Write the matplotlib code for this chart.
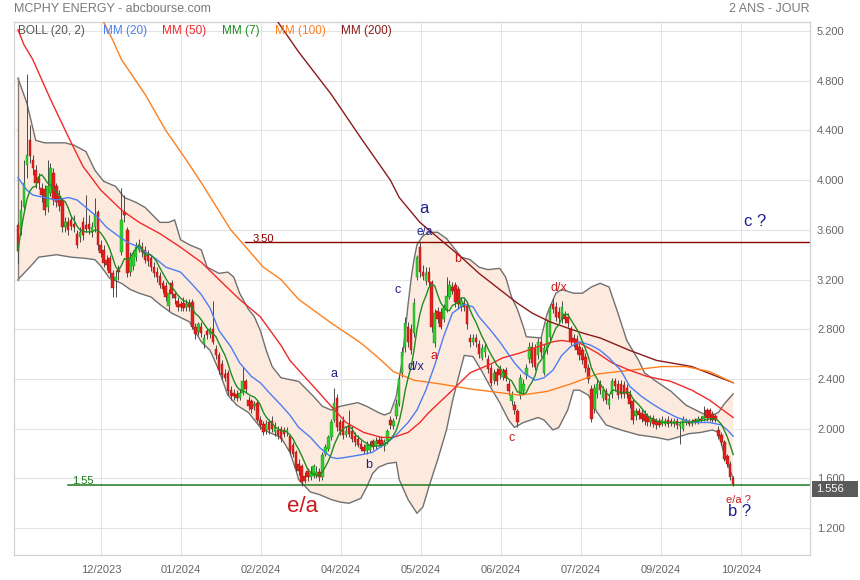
import matplotlib
matplotlib.use("Agg")
import matplotlib.pyplot as plt
import numpy as np
import pandas as pd
from matplotlib.patches import Rectangle

plt.rcParams['font.family'] = ['Liberation Sans', 'DejaVu Sans']

# ---------------- data (daily candles) ----------------
opens = [3.64, 3.60, 3.78, 4.12, 4.32, 4.16, 4.08, 4.02, 3.94, 3.93,
         3.78, 3.90, 4.06, 3.95, 3.87, 3.84, 3.62, 3.66, 3.68, 3.65,
         3.57, 3.54, 3.66, 3.64, 3.65, 3.58, 3.62, 3.74, 3.48, 3.44,
         3.36, 3.37, 3.25, 3.20, 3.28, 3.42, 3.74, 3.60, 3.26, 3.31,
         3.38, 3.44, 3.46, 3.44, 3.40, 3.37, 3.30, 3.26, 3.23, 3.17,
         3.15, 2.99, 3.17, 3.08, 3.03, 3.00, 3.01, 2.98, 3.01, 3.02,
         2.82, 2.78, 2.82, 2.68, 2.79, 2.76, 2.80, 2.64, 2.59, 2.52,
         2.44, 2.45, 2.31, 2.29, 2.28, 2.25, 2.29, 2.38, 2.23, 2.22,
         2.18, 2.21, 2.07, 2.04, 1.99, 2.05, 2.06, 1.97, 1.99, 2.00,
         1.99, 1.97, 1.94, 1.87, 1.81, 1.72, 1.70, 1.62, 1.66, 1.61,
         1.62, 1.62, 1.65, 1.61, 1.80, 1.84, 1.93, 2.07, 2.25, 2.05,
         2.06, 1.95, 2.03, 1.98, 1.94, 1.92, 1.88, 1.85, 1.82, 1.83,
         1.90, 1.86, 1.91, 1.91, 1.86, 1.90, 2.07, 2.02, 2.10, 2.20,
         2.45, 2.66, 2.82, 2.80, 2.77, 3.22, 3.46, 3.26, 3.19, 3.26,
         3.18, 2.69, 2.95, 2.94, 2.88, 2.96, 3.06, 3.14, 3.16, 3.12,
         2.98, 3.01, 2.99, 2.73, 2.70, 2.73, 2.68, 2.57, 2.62, 2.56,
         2.49, 2.39, 2.46, 2.48, 2.42, 2.47, 2.36, 2.22, 2.19, 2.14,
         2.27, 2.30, 2.43, 2.56, 2.66, 2.65, 2.59, 2.70, 2.45, 2.63,
         2.74, 3.00, 2.98, 2.94, 2.88, 2.92, 2.90, 2.80, 2.73, 2.72,
         2.66, 2.63, 2.58, 2.49, 2.32, 2.16, 2.28, 2.36, 2.25, 2.30,
         2.19, 2.28, 2.38, 2.36, 2.36, 2.35, 2.33, 2.28, 2.22, 2.10,
         2.14, 2.13, 2.12, 2.10, 2.05, 2.08, 2.06, 2.06, 2.04, 2.04,
         2.07, 2.06, 2.04, 2.06, 2.02, 2.00, 2.05, 2.06, 2.04, 2.07,
         2.06, 2.08, 2.08, 2.15, 2.15, 2.12, 2.10, 1.99, 1.95, 1.89,
         1.78, 1.72, 1.60]

closes = [3.43, 3.76, 3.98, 4.20, 4.19, 4.10, 3.98, 3.98, 3.88, 3.76,
          3.95, 4.10, 3.84, 3.82, 3.79, 3.62, 3.66, 3.60, 3.63, 3.62,
          3.48, 3.58, 3.56, 3.61, 3.61, 3.62, 3.73, 3.48, 3.41, 3.33,
          3.32, 3.25, 3.13, 3.22, 3.26, 3.68, 3.72, 3.25, 3.37, 3.41,
          3.46, 3.48, 3.42, 3.36, 3.35, 3.30, 3.25, 3.22, 3.16, 3.12,
          3.06, 3.09, 3.08, 3.05, 2.98, 2.98, 2.97, 3.00, 2.98, 2.82,
          2.76, 2.84, 2.77, 2.73, 2.75, 2.80, 2.70, 2.59, 2.47, 2.43,
          2.41, 2.30, 2.26, 2.26, 2.25, 2.29, 2.38, 2.32, 2.18, 2.16,
          2.20, 2.07, 2.03, 1.97, 2.04, 1.99, 2.00, 2.01, 1.95, 1.92,
          1.96, 1.99, 1.82, 1.80, 1.68, 1.66, 1.57, 1.58, 1.61, 1.64,
          1.70, 1.65, 1.61, 1.79, 1.85, 1.93, 2.05, 2.21, 2.01, 1.98,
          1.95, 1.98, 1.96, 1.92, 1.89, 1.87, 1.84, 1.82, 1.87, 1.87,
          1.85, 1.90, 1.88, 1.87, 1.89, 1.98, 2.03, 2.06, 2.20, 2.40,
          2.62, 2.85, 2.70, 2.63, 3.01, 3.38, 3.26, 3.23, 3.25, 3.18,
          2.82, 2.93, 2.88, 2.82, 2.97, 3.07, 3.16, 3.11, 3.02, 3.00,
          3.03, 2.98, 2.84, 2.70, 2.73, 2.70, 2.60, 2.65, 2.66, 2.48,
          2.37, 2.45, 2.38, 2.43, 2.46, 2.41, 2.30, 2.27, 2.15, 2.05,
          2.41, 2.36, 2.49, 2.66, 2.53, 2.50, 2.70, 2.62, 2.65, 2.85,
          2.98, 2.96, 2.90, 2.89, 2.98, 2.88, 2.85, 2.70, 2.70, 2.63,
          2.59, 2.55, 2.49, 2.40, 2.08, 2.33, 2.36, 2.31, 2.31, 2.23,
          2.24, 2.38, 2.34, 2.27, 2.28, 2.28, 2.28, 2.20, 2.07, 2.14,
          2.11, 2.08, 2.06, 2.05, 2.08, 2.04, 2.03, 2.03, 2.07, 2.06,
          2.04, 2.05, 2.06, 2.03, 2.04, 2.08, 2.07, 2.04, 2.06, 2.06,
          2.08, 2.07, 2.10, 2.09, 2.09, 2.07, 2.07, 1.94, 1.89, 1.76,
          1.72, 1.61, 1.556]

highs = [3.66, 3.84, 4.16, 4.85, 4.44, 4.20, 4.12, 4.06, 3.98, 3.96,
         4.16, 4.14, 4.10, 3.98, 3.92, 3.86, 3.70, 3.70, 3.72, 3.72,
         3.60, 3.62, 3.70, 3.88, 3.72, 3.66, 3.86, 3.76, 3.52, 3.48,
         3.40, 3.40, 3.28, 3.28, 3.32, 3.94, 3.88, 3.62, 3.42, 3.44,
         3.50, 3.53, 3.50, 3.47, 3.44, 3.40, 3.34, 3.30, 3.26, 3.20,
         3.18, 3.12, 3.20, 3.10, 3.06, 3.03, 3.06, 3.04, 3.04, 3.04,
         2.85, 2.86, 2.86, 2.76, 2.81, 2.82, 3.03, 2.67, 2.62, 2.55,
         2.48, 2.47, 2.34, 2.32, 2.31, 2.32, 2.50, 2.40, 2.26, 2.24,
         2.22, 2.23, 2.10, 2.06, 2.07, 2.08, 2.10, 2.05, 2.02, 2.02,
         2.01, 2.01, 1.96, 1.89, 1.83, 1.76, 1.72, 1.65, 1.68, 1.70,
         1.72, 1.70, 1.68, 1.81, 1.88, 1.95, 2.08, 2.33, 2.28, 2.08,
         2.10, 2.02, 2.15, 2.02, 1.97, 1.95, 1.91, 1.88, 1.90, 1.90,
         1.92, 1.93, 1.94, 1.94, 1.92, 2.00, 2.10, 2.09, 2.24, 2.45,
         2.66, 2.90, 2.86, 2.84, 3.05, 3.40, 3.50, 3.32, 3.30, 3.30,
         3.20, 2.96, 2.98, 2.97, 3.00, 3.22, 3.20, 3.18, 3.18, 3.15,
         3.06, 3.04, 3.02, 2.76, 2.76, 2.76, 2.71, 2.68, 2.70, 2.59,
         2.52, 2.48, 2.49, 2.51, 2.49, 2.50, 2.39, 2.30, 2.22, 2.16,
         2.44, 2.40, 2.52, 2.70, 2.70, 2.68, 2.73, 2.74, 2.68, 2.88,
         3.00, 3.05, 3.02, 2.98, 3.03, 2.95, 2.93, 2.83, 2.76, 2.75,
         2.69, 2.66, 2.61, 2.52, 2.35, 2.36, 2.40, 2.39, 2.34, 2.33,
         2.27, 2.41, 2.41, 2.39, 2.39, 2.38, 2.36, 2.31, 2.25, 2.17,
         2.17, 2.16, 2.15, 2.13, 2.11, 2.11, 2.09, 2.09, 2.10, 2.09,
         2.10, 2.09, 2.09, 2.09, 2.06, 2.10, 2.09, 2.08, 2.08, 2.09,
         2.10, 2.10, 2.18, 2.17, 2.17, 2.14, 2.12, 2.02, 1.97, 1.91,
         1.80, 1.74, 1.62]

lows = [3.33, 3.56, 3.74, 4.02, 4.14, 4.04, 3.94, 3.93, 3.82, 3.72,
        3.74, 3.87, 3.80, 3.78, 3.75, 3.58, 3.58, 3.56, 3.60, 3.58,
        3.45, 3.50, 3.52, 3.58, 3.57, 3.54, 3.58, 3.44, 3.38, 3.30,
        3.28, 3.22, 3.06, 3.06, 3.20, 3.40, 3.66, 3.22, 3.23, 3.28,
        3.35, 3.42, 3.38, 3.33, 3.31, 3.27, 3.22, 3.18, 3.13, 3.09,
        3.03, 2.95, 3.05, 3.00, 2.95, 2.95, 2.95, 2.95, 2.95, 2.80,
        2.72, 2.75, 2.74, 2.65, 2.72, 2.73, 2.68, 2.56, 2.44, 2.40,
        2.38, 2.27, 2.23, 2.23, 2.22, 2.23, 2.27, 2.29, 2.15, 2.13,
        2.15, 2.05, 2.00, 1.95, 1.96, 1.96, 1.97, 1.94, 1.92, 1.89,
        1.93, 1.94, 1.80, 1.77, 1.66, 1.63, 1.54, 1.56, 1.58, 1.59,
        1.60, 1.60, 1.58, 1.59, 1.78, 1.82, 1.91, 2.05, 1.98, 1.95,
        1.92, 1.93, 1.93, 1.89, 1.86, 1.85, 1.82, 1.80, 1.80, 1.81,
        1.83, 1.84, 1.86, 1.85, 1.82, 1.88, 2.00, 2.00, 2.08, 2.18,
        2.42, 2.62, 2.66, 2.60, 2.74, 3.20, 3.22, 3.20, 3.16, 3.15,
        2.78, 2.66, 2.85, 2.80, 2.86, 2.94, 3.04, 3.08, 2.98, 2.96,
        2.95, 2.95, 2.80, 2.66, 2.67, 2.66, 2.57, 2.55, 2.58, 2.45,
        2.34, 2.36, 2.35, 2.40, 2.39, 2.38, 2.27, 2.19, 2.12, 2.01,
        2.24, 2.28, 2.40, 2.53, 2.50, 2.47, 2.56, 2.58, 2.43, 2.60,
        2.70, 2.93, 2.87, 2.85, 2.85, 2.85, 2.82, 2.67, 2.66, 2.60,
        2.55, 2.52, 2.46, 2.37, 2.05, 2.13, 2.25, 2.28, 2.22, 2.20,
        2.16, 2.25, 2.30, 2.24, 2.25, 2.25, 2.25, 2.17, 2.04, 2.07,
        2.08, 2.05, 2.03, 2.02, 2.02, 2.01, 2.00, 2.01, 2.02, 2.02,
        2.01, 2.02, 2.01, 2.00, 1.88, 1.98, 2.03, 2.02, 2.02, 2.04,
        2.04, 2.05, 2.06, 2.06, 2.06, 2.05, 2.05, 1.92, 1.87, 1.74,
        1.69, 1.59, 1.54]

# indicator lines (candle index, value)
boll_up_idx = [0, 3, 6, 9, 13, 16, 19, 23, 26, 29, 33, 36, 40, 43, 48, 51, 53, 55, 58, 62,
               64, 68, 71, 73, 75, 78, 80, 82, 84, 86, 89, 93, 95, 100, 103, 106, 109, 115, 118, 122,
               124, 126, 128, 130, 132, 133, 134, 135, 137, 139, 142, 145, 148, 150, 153, 156, 159, 163, 165, 167,
               169, 171, 172, 177, 179, 182, 184, 188, 191, 194, 197, 200, 203, 206, 210, 212, 216, 221, 226, 231,
               234, 237, 239, 242]
boll_up = [4.82, 4.62, 4.32, 4.30, 4.30, 4.30, 4.28, 4.23, 4.08, 3.99, 3.95, 3.86, 3.82, 3.78, 3.66, 3.66, 3.68, 3.52, 3.48, 3.44,
           3.30, 3.25, 3.26, 3.22, 3.09, 2.96, 2.90, 2.79, 2.63, 2.50, 2.41, 2.39, 2.38, 2.26, 2.18, 2.15, 2.18, 2.21, 2.18, 2.13,
           2.11, 2.13, 2.26, 2.55, 3.00, 3.20, 3.36, 3.48, 3.55, 3.58, 3.58, 3.53, 3.44, 3.38, 3.36, 3.30, 3.28, 3.29, 3.22, 3.06,
           2.96, 2.82, 2.74, 2.73, 2.92, 3.09, 3.12, 3.09, 3.09, 3.14, 3.17, 3.14, 2.93, 2.71, 2.55, 2.45, 2.38, 2.30, 2.19, 2.13,
           2.10, 2.13, 2.20, 2.28]

boll_lo_idx = [0, 4, 7, 13, 18, 23, 26, 28, 31, 35, 38, 41, 45, 48, 52, 58, 62, 65, 68, 71,
               74, 78, 82, 85, 89, 92, 94, 95, 99, 102, 106, 109, 112, 116, 118, 120, 122, 125, 128, 129,
               132, 135, 137, 139, 142, 143, 145, 147, 149, 151, 154, 157, 160, 163, 166, 168, 171, 176, 178, 181,
               183, 186, 188, 190, 193, 196, 199, 204, 210, 216, 220, 223, 227, 231, 235, 237, 239, 242]
boll_lo = [3.20, 3.30, 3.38, 3.40, 3.38, 3.37, 3.36, 3.31, 3.21, 3.17, 3.12, 3.09, 3.06, 3.00, 2.93, 2.86, 2.70, 2.63, 2.47, 2.27,
           2.19, 2.13, 2.01, 1.97, 1.93, 1.81, 1.67, 1.59, 1.49, 1.47, 1.43, 1.41, 1.40, 1.44, 1.53, 1.64, 1.69, 1.72, 1.73, 1.59,
           1.43, 1.32, 1.37, 1.53, 1.75, 1.83, 1.99, 2.22, 2.41, 2.59, 2.58, 2.46, 2.33, 2.21, 2.07, 2.01, 2.05, 2.09, 2.07, 1.99,
           2.01, 2.15, 2.31, 2.31, 2.27, 2.13, 2.03, 1.99, 1.95, 1.93, 1.91, 1.93, 1.96, 1.97, 1.99, 1.97, 1.79, 1.60]

mm20_idx = [0, 3, 5, 9, 13, 17, 20, 23, 27, 30, 34, 37, 40, 44, 47, 50, 55, 59, 62, 65,
            68, 72, 75, 79, 82, 85, 89, 92, 95, 99, 102, 106, 108, 111, 116, 120, 125, 128, 132, 135,
            138, 141, 144, 147, 151, 154, 156, 160, 163, 168, 171, 175, 178, 181, 184, 187, 190, 194, 197, 200,
            204, 207, 211, 214, 218, 223, 228, 234, 238, 240, 242]
mm20 = [4.02, 3.92, 3.88, 3.86, 3.84, 3.86, 3.84, 3.78, 3.70, 3.62, 3.55, 3.50, 3.47, 3.41, 3.36, 3.30, 3.26, 3.16, 3.08, 2.97,
        2.79, 2.66, 2.53, 2.42, 2.37, 2.29, 2.19, 2.11, 2.01, 1.93, 1.85, 1.77, 1.76, 1.77, 1.79, 1.81, 1.89, 1.95, 2.05, 2.15,
        2.31, 2.51, 2.74, 2.93, 3.00, 2.98, 2.90, 2.79, 2.70, 2.53, 2.45, 2.39, 2.41, 2.47, 2.59, 2.66, 2.70, 2.67, 2.63, 2.57,
        2.47, 2.34, 2.26, 2.21, 2.15, 2.09, 2.05, 2.05, 2.03, 1.99, 1.94]

mm50_idx = [0, 2, 5, 11, 17, 22, 28, 35, 41, 48, 55, 62, 68, 75, 82, 89, 92, 95, 100, 106,
            111, 117, 123, 127, 132, 136, 139, 143, 147, 153, 159, 164, 170, 176, 181, 184, 190, 196, 201, 207,
            213, 221, 228, 234, 242]
mm50 = [5.21, 5.09, 4.97, 4.65, 4.35, 4.11, 3.92, 3.76, 3.66, 3.57, 3.46, 3.34, 3.20, 3.04, 2.90, 2.67, 2.55, 2.47, 2.34, 2.18,
        2.05, 1.97, 1.93, 1.93, 1.97, 2.05, 2.13, 2.22, 2.31, 2.45, 2.51, 2.57, 2.61, 2.66, 2.70, 2.71, 2.69, 2.61, 2.53, 2.47,
        2.42, 2.38, 2.31, 2.23, 2.09]

mm100_idx = [29, 32, 35, 43, 50, 57, 62, 72, 83, 89, 95, 106, 116, 122, 127, 134, 143, 153, 163, 170,
             179, 187, 196, 207, 218, 226, 234, 242]
mm100 = [5.27, 5.13, 4.97, 4.69, 4.40, 4.16, 3.98, 3.60, 3.30, 3.20, 3.04, 2.85, 2.69, 2.57, 2.46, 2.39, 2.36, 2.32, 2.29, 2.27,
         2.30, 2.36, 2.44, 2.47, 2.50, 2.50, 2.46, 2.37]

mm200_idx = [88, 95, 106, 116, 126, 129, 136, 143, 150, 156, 163, 169, 174, 180, 186, 191, 197, 207, 216, 228, 242]
mm200 = [5.27, 5.03, 4.69, 4.34, 4.00, 3.86, 3.66, 3.52, 3.38, 3.25, 3.12, 3.01, 2.93, 2.86, 2.81, 2.77, 2.73, 2.63, 2.55, 2.50, 2.37]

month_labels = ["12/2023", "01/2024", "02/2024", "04/2024", "05/2024",
                "06/2024", "07/2024", "09/2024", "10/2024"]
month_idx = [28.1, 55.2, 82.2, 109.3, 136.4, 163.5, 190.5, 217.6, 244.7]

price_ticks = [1.2, 1.6, 2.0, 2.4, 2.8, 3.2, 3.6, 4.0, 4.4, 4.8, 5.2]
level_high = 3.50
level_low = 1.55
last_price = 1.556

# ---------------- figure ----------------
W, H = 860, 580
fig = plt.figure(figsize=(W / 100, H / 100), dpi=100)
L, R, T, B = 14, 810, 22, 555
ax = fig.add_axes([L / W, 1 - B / H, (R - L) / W, (B - T) / H])

o = np.array(opens); c = np.array(closes)
h = np.maximum(np.array(highs), np.maximum(o, c))
lo = np.minimum(np.array(lows), np.minimum(o, c))
n = len(c)
x = np.arange(n)

ax.set_xlim(-1.35, 268.0)
ax.set_ylim(0.984, 5.272)

# grid
ax.set_yticks(price_ticks)
ax.set_xticks(month_idx)
ax.grid(True, color='#e3e3e3', lw=0.8, zorder=0)
ax.set_axisbelow(True)
for s in ax.spines.values():
    s.set_color('#d2d2d2'); s.set_linewidth(0.9)

# Bollinger band
poly_x = np.r_[boll_up_idx, boll_lo_idx[::-1]]
poly_y = np.r_[boll_up, boll_lo[::-1]]
ax.fill(poly_x, poly_y, color='#fdeade', lw=0, zorder=1)
ax.plot(boll_up_idx, boll_up, color='#707070', lw=1.0, zorder=2)
ax.plot(boll_lo_idx, boll_lo, color='#707070', lw=1.0, zorder=2)
ax.plot([boll_up_idx[0], boll_lo_idx[0]], [boll_up[0], boll_lo[0]], color='#8a7a70', lw=1.0, zorder=2)

# level lines
ax.axhline(level_high, xmin=(245 - L) / (R - L), xmax=1, color='#8a0000', lw=1.0, zorder=2)
ax.axhline(level_low, xmin=(68 - L) / (R - L), xmax=1, color='#1d7a1d', lw=1.1, zorder=2)

# candles
up = c >= o
ax.vlines(x, lo, h, color='#4a4a4a', lw=0.7, zorder=3)
body_h = np.maximum(np.abs(c - o), 0.012)
body_b = np.minimum(o, c)
ax.bar(x[up], body_h[up], bottom=body_b[up], width=0.85, color='#2fcf2f',
       edgecolor='#1c8f1c', linewidth=0.3, zorder=4)
ax.bar(x[~up], body_h[~up], bottom=body_b[~up], width=0.85, color='#e3211c',
       edgecolor='#a01010', linewidth=0.3, zorder=4)

# moving averages
mm7 = pd.Series(c).rolling(7, min_periods=1).mean()
ax.plot(mm200_idx, mm200, color='#8b1a1a', lw=1.0, zorder=5)
ax.plot(mm100_idx, mm100, color='#ff7f1e', lw=1.0, zorder=5)
ax.plot(mm50_idx, mm50, color='#f02a2a', lw=1.0, zorder=5)
ax.plot(mm20_idx, mm20, color='#4a7ef2', lw=1.0, zorder=5)
ax.plot(x, mm7, color='#1f8c1f', lw=1.0, zorder=5)

# axis labels
ax.yaxis.tick_right()
ax.set_yticklabels([f"{v:.3f}" for v in price_ticks])
ax.set_xticklabels(month_labels)
ax.tick_params(axis='y', length=0, pad=5, labelsize=8, labelcolor='#666666')
ax.tick_params(axis='x', length=0, pad=7, labelsize=8, labelcolor='#666666')


def fp(px, py):
    return px / W, 1 - py / H


def ftext(px, py, s, color, size, ha='left', weight='normal'):
    fig.text(*fp(px, py), s, color=color, fontsize=size, ha=ha, va='center', fontweight=weight)


# header
ftext(14, 9, "MCPHY ENERGY - abcbourse.com", '#7a7a7a', 9)
ftext(810, 9, "2 ANS - JOUR", '#7a7a7a', 9, ha='right')

# legend
ftext(18, 31, "BOLL (20, 2)", '#555555', 8.5)
ftext(103, 31, "MM (20)", '#4a7ef2', 8.5)
ftext(162, 31, "MM (50)", '#f02a2a', 8.5)
ftext(222, 31, "MM (7)", '#1f8c1f', 8.5)
ftext(275, 31, "MM (100)", '#ff7f1e', 8.5)
ftext(341, 31, "MM (200)", '#8b1a1a', 8.5)

# level labels
ftext(253, 239, "3.50", '#8a0000', 8)
ftext(72, 481, "1.55", '#1d7a1d', 8)

# wave annotations
navy = '#1e1e8c'
red = '#cc1a1a'
ftext(302, 507, "e/a", red, 16, ha='center')
ftext(334, 374, "a", navy, 9, ha='center')
ftext(369, 465, "b", navy, 9, ha='center')
ftext(398, 290, "c", navy, 9, ha='center')
ftext(416, 367, "d/x", navy, 9, ha='center')
ftext(434, 356, "a", red, 9, ha='center')
ftext(424, 208, "a", navy, 12, ha='center')
ftext(425, 232, "e/a", navy, 8.5, ha='center')
ftext(458, 259, "b", red, 9, ha='center')
ftext(512, 438, "c", red, 9, ha='center')
ftext(559, 288, "d/x", red, 9, ha='center')
ftext(755, 221, "c ?", navy, 12, ha='center')
ftext(738, 500, "e/a ?", red, 8, ha='center')
ftext(740, 512, "b ?", navy, 12, ha='center')

# last price tag
fig.add_artist(Rectangle(fp(812, 497), 46 / W, 16 / H, transform=fig.transFigure,
                         facecolor='#5a5a5a', edgecolor='none'))
ftext(816, 489, f"{last_price:.3f}", 'white', 8)

fig.savefig("out.png", dpi=100)
